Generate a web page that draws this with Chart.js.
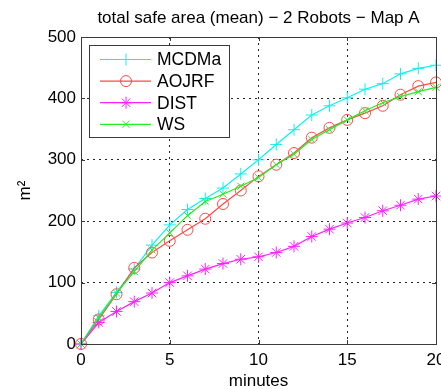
<!DOCTYPE html>
<html>
<head>
<meta charset="utf-8">
<script src="https://cdn.jsdelivr.net/npm/chart.js@4.4.1/dist/chart.umd.min.js"></script>
<style>
html,body{margin:0;padding:0;background:#fff;overflow:hidden;}
#wrap{position:relative;width:452px;height:389px;}
</style>
</head>
<body>
<div id="wrap"><canvas id="c" width="452" height="389"></canvas></div>
<script>
const minutes = [0,1,2,3,4,5,6,7,8,9,10,11,12,13,14,15,16,17,18,19,20];
const seriesNames = ['MCDMa','AOJRF','DIST','WS'];
const mcdma = [0,46,84,122,161,194,219,237,254,277,300,325,349,373,388,401,415,424,440,449,454];
const aojrf = [0,40,81,124,149,168,186,204,228,250,273,292,311,336,352,365,376,388,406,420,426];
const dist  = [0,35,53,69,83,100,111,122,131,138,142,149,159,175,187,197,206,217,226,236,241];
const ws    = [0,43,83,118,153,181,209,232,244,257,271,292,309,333,349,365,380,393,403,411,418];
const xTicks = [0,5,10,15,20];
const yTicks = [0,100,200,300,400,500];
const titleText = 'total safe area (mean) \u2212 2 Robots \u2212 Map A';
const xTitle = 'minutes';
const yTitle = 'm\u00B2';

const colors = ['#10f0f0','#ff4a4a','#ff22ff','#22ee22'];
const styles = ['cross','circle','star','crossRot'];
const radii = [6,5.5,6,5];
const values = [mcdma,aojrf,dist,ws];
const FONT = '"Liberation Sans", Arial, sans-serif';

function drawMarker(ctx, style, x, y, r, color){
  ctx.save();
  ctx.strokeStyle = color; ctx.lineWidth = 1; ctx.beginPath();
  if (style==='cross' || style==='star'){
    ctx.moveTo(x-r,y); ctx.lineTo(x+r,y); ctx.moveTo(x,y-r); ctx.lineTo(x,y+r);
  }
  if (style==='crossRot' || style==='star'){
    const d = r*0.7071;
    ctx.moveTo(x-d,y-d); ctx.lineTo(x+d,y+d); ctx.moveTo(x-d,y+d); ctx.lineTo(x+d,y-d);
  }
  if (style==='circle'){ ctx.arc(x,y,r,0,Math.PI*2); }
  ctx.stroke(); ctx.restore();
}

const framePlugin = {
  id:'frame',
  afterDatasetsDraw(chart){
    const {ctx, chartArea:a, scales} = chart;
    ctx.save();
    ctx.strokeStyle = '#3a3a3a'; ctx.lineWidth = 1;
    ctx.strokeRect(Math.round(a.left)+0.5, Math.round(a.top)+0.5, Math.round(a.right-a.left), Math.round(a.bottom-a.top));
    const tl = 4;
    ctx.beginPath();
    xTicks.forEach(v=>{
      const x = Math.round(scales.x.getPixelForValue(v))+0.5;
      ctx.moveTo(x,a.bottom); ctx.lineTo(x,a.bottom-tl);
      ctx.moveTo(x,a.top); ctx.lineTo(x,a.top+tl);
    });
    yTicks.forEach(v=>{
      const y = Math.round(scales.y.getPixelForValue(v))+0.5;
      ctx.moveTo(a.left,y); ctx.lineTo(a.left+tl,y);
      ctx.moveTo(a.right,y); ctx.lineTo(a.right-tl,y);
    });
    ctx.stroke();
    ctx.fillStyle = '#000';
    ctx.font = '17px ' + FONT;
    ctx.textAlign = 'center'; ctx.textBaseline = 'middle';
    ctx.fillText(titleText, (a.left+a.right)/2, 18);
    const bx = 89.5, by = 45.5, bw = 140, bh = 92;
    ctx.fillStyle = '#fff'; ctx.fillRect(bx,by,bw,bh);
    ctx.strokeStyle = '#3a3a3a'; ctx.strokeRect(bx,by,bw,bh);
    seriesNames.forEach((name,i)=>{
      const y = 59.5 + i*21.6;
      ctx.strokeStyle = colors[i]; ctx.lineWidth = 1.2;
      ctx.beginPath(); ctx.moveTo(100,y); ctx.lineTo(151,y); ctx.stroke();
      drawMarker(ctx, styles[i], 126, y, radii[i], colors[i]);
      ctx.fillStyle = '#000'; ctx.textAlign = 'left'; ctx.textBaseline='middle';
      ctx.font = '17.5px ' + FONT;
      ctx.fillText(name, 157, y+1);
    });
    ctx.restore();
  }
};

const datasets = seriesNames.map((name,i)=>({
  label: name,
  data: values[i],
  borderColor: colors[i],
  backgroundColor: 'rgba(0,0,0,0)',
  borderWidth: 1.2,
  pointStyle: styles[i],
  pointRadius: radii[i],
  pointBorderWidth: 1,
  pointBorderColor: colors[i],
  pointBackgroundColor: 'rgba(0,0,0,0)',
  tension: 0,
  clip: false,
  order: 4 - i
}));

new Chart(document.getElementById('c'), {
  type: 'line',
  data: { labels: minutes, datasets },
  plugins: [framePlugin],
  options: {
    responsive: false,
    animation: false,
    events: [],
    layout: { padding: { left: 0, right: 16, top: 37, bottom: 0 } },
    plugins: { legend: { display:false }, title: { display:false }, tooltip:{enabled:false} },
    scales: {
      x: {
        type: 'linear', min: 0, max: 20,
        afterBuildTicks(s){ s.ticks = xTicks.map(v=>({value:v})); },
        afterFit(s){ s.height = 45; },
        ticks: { color:'#000', font:{family:FONT,size:17}, padding: 6, maxRotation:0 },
        grid: { color:'#222', lineWidth:1, drawTicks:false },
        border: { display:false, dash:[2,4] },
        title: { display:true, text:xTitle, color:'#000', font:{family:FONT,size:17,lineHeight:0.85}, padding:{top:0,bottom:0} }
      },
      y: {
        type: 'linear', min: 0, max: 500,
        afterBuildTicks(s){ s.ticks = yTicks.map(v=>({value:v})); },
        afterFit(s){ s.width = 81; },
        ticks: { color:'#000', font:{family:FONT,size:17}, padding: 5 },
        grid: { color:'#222', lineWidth:1, drawTicks:false },
        border: { display:false, dash:[2,4] },
        title: { display:true, text:yTitle, color:'#000', font:{family:FONT,size:17}, padding:{top:15,bottom:0} }
      }
    }
  }
});
</script>
</body>
</html>
